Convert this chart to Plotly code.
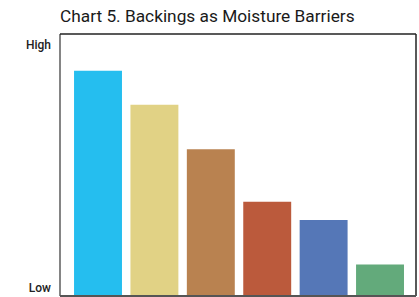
import plotly.graph_objects as go

categories = ["A", "B", "C", "D", "E", "F"]
values = [86, 73, 56, 36, 29, 12]
colors = ["#25BEEF", "#E1D285", "#B98250", "#BB5A3C", "#5577B7", "#63AA7B"]
tick_vals = [3, 96]
tick_text = ["Low", "High"]

fig = go.Figure(go.Bar(x=list(range(len(categories))), y=values,
                       marker=dict(color=colors, line=dict(width=0)),
                       width=0.85, hoverinfo="skip"))

fig.update_layout(
    width=419, height=297,
    margin=dict(l=60, r=3, t=34, b=1),
    paper_bgcolor="white", plot_bgcolor="white",
    showlegend=False,
    title=dict(text="Chart 5. Backings as Moisture Barriers", x=60/419, xanchor="left",
               y=1 - 16/297, yanchor="middle",
               font=dict(family="Roboto", size=17.3, color="#1a1a1a")),
    xaxis=dict(range=[-0.674, 5.638], showticklabels=False, showgrid=False,
               zeroline=False, showline=False, fixedrange=True),
    yaxis=dict(range=[0, 100], tickvals=tick_vals, ticktext=tick_text,
               showgrid=False, zeroline=False, showline=False, ticks="",
               ticklabelstandoff=8,
               tickfont=dict(family="Roboto", size=12, color="#222", weight=500),
               fixedrange=True),
    shapes=[
        dict(type="line", xref="paper", yref="paper", x0=0, x1=0, y0=0, y1=1,
             line=dict(color="#333", width=1.2)),
        dict(type="line", xref="paper", yref="paper", x0=0, x1=1, y0=1, y1=1,
             line=dict(color="#222", width=1.5)),
        dict(type="line", xref="paper", yref="paper", x0=1, x1=1, y0=0, y1=1,
             line=dict(color="#222", width=1.5)),
        dict(type="line", xref="paper", yref="paper", x0=0, x1=1, y0=0, y1=0,
             line=dict(color="#555", width=2)),
    ],
)

fig.write_html("out.html", config={"displayModeBar": False},
               post_script="document.body.style.margin='0';document.body.style.overflow='hidden';")
